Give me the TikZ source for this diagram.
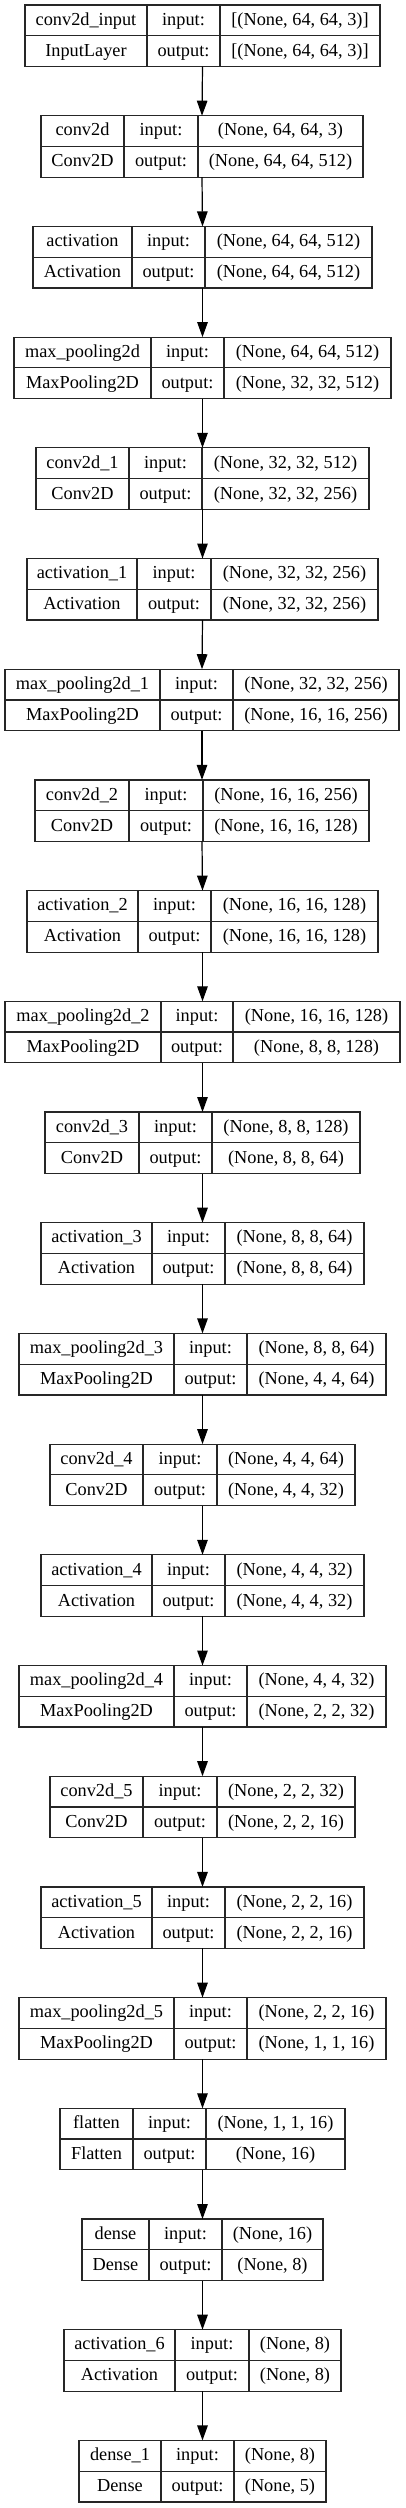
\documentclass[tikz,border=0pt]{standalone}
\usepackage{fontspec}
\setmainfont{Liberation Serif}
\usepackage{tikz}
\usetikzlibrary{arrows.meta}

% one layer record: index, left, divider 1, divider 2, right, name, class, input, output
\newcommand{\layerrow}[9]{%
    \pgfmathsetmacro{\rowtop}{5+#1*110.7}
    \node[layerbox, minimum width={#5-#2}, anchor=north west] (L#1) at (#2,\rowtop) {};
    \draw[cellline] (L#1.west) -- (L#1.east);
    \draw[cellline] (#3,\rowtop) -- ++(0,61.5);
    \draw[cellline] (#4,\rowtop) -- ++(0,61.5);
    \node[celltext] (L#1name) at ({(#2+#3)/2},{\rowtop+16}) {#6};
    \node[celltext] (L#1class) at ({(#2+#3)/2},{\rowtop+47}) {#7};
    \node[celltext] (L#1inlab) at ({(#3+#4)/2},{\rowtop+16}) {input:};
    \node[celltext] (L#1outlab) at ({(#3+#4)/2},{\rowtop+47}) {output:};
    \node[celltext] (L#1in) at ({(#4+#5)/2},{\rowtop+16}) {#8};
    \node[celltext] (L#1out) at ({(#4+#5)/2},{\rowtop+47}) {#9};
}

\begin{document}
\begin{tikzpicture}[x=1pt, y=-1pt, >={Triangle[length=15pt,width=10.5pt]},
    layerbox/.style={draw=black!85, line width=1.2pt, minimum height=61.5, inner sep=0pt, outer sep=0pt},
    cellline/.style={draw=black!85, line width=1.2pt},
    celltext/.style={inner sep=0pt, text height=12.5pt, text depth=4pt, font=\fontsize{18.3}{21}\selectfont},
    flow/.style={black, line width=1.2pt, ->}]
    \useasboundingbox (0,0) rectangle (405,2508);

    \layerrow{0}{25}{147}{220}{380}{conv2d\_input}{InputLayer}{[(None, 64, 64, 3)]}{[(None, 64, 64, 3)]}
    \layerrow{1}{41}{124}{198}{363}{conv2d}{Conv2D}{(None, 64, 64, 3)}{(None, 64, 64, 512)}
    \layerrow{2}{33}{132}{205}{372}{activation}{Activation}{(None, 64, 64, 512)}{(None, 64, 64, 512)}
    \layerrow{3}{14}{151}{224}{391}{max\_pooling2d}{MaxPooling2D}{(None, 64, 64, 512)}{(None, 32, 32, 512)}
    \layerrow{4}{36}{129}{202}{369}{conv2d\_1}{Conv2D}{(None, 32, 32, 512)}{(None, 32, 32, 256)}
    \layerrow{5}{27}{137}{211}{378}{activation\_1}{Activation}{(None, 32, 32, 256)}{(None, 32, 32, 256)}
    \layerrow{6}{5}{160}{233}{399}{max\_pooling2d\_1}{MaxPooling2D}{(None, 32, 32, 256)}{(None, 16, 16, 256)}
    \layerrow{7}{35}{129}{203}{369}{conv2d\_2}{Conv2D}{(None, 16, 16, 256)}{(None, 16, 16, 128)}
    \layerrow{8}{27}{138}{211}{378}{activation\_2}{Activation}{(None, 16, 16, 128)}{(None, 16, 16, 128)}
    \layerrow{9}{5}{161}{233}{400}{max\_pooling2d\_2}{MaxPooling2D}{(None, 16, 16, 128)}{(None, 8, 8, 128)}
    \layerrow{10}{45}{139}{212}{360}{conv2d\_3}{Conv2D}{(None, 8, 8, 128)}{(None, 8, 8, 64)}
    \layerrow{11}{41}{152}{225}{364}{activation\_3}{Activation}{(None, 8, 8, 64)}{(None, 8, 8, 64)}
    \layerrow{12}{19}{174}{247}{386}{max\_pooling2d\_3}{MaxPooling2D}{(None, 8, 8, 64)}{(None, 4, 4, 64)}
    \layerrow{13}{50}{143}{217}{355}{conv2d\_4}{Conv2D}{(None, 4, 4, 64)}{(None, 4, 4, 32)}
    \layerrow{14}{41}{152}{225}{364}{activation\_4}{Activation}{(None, 4, 4, 32)}{(None, 4, 4, 32)}
    \layerrow{15}{19}{174}{247}{386}{max\_pooling2d\_4}{MaxPooling2D}{(None, 4, 4, 32)}{(None, 2, 2, 32)}
    \layerrow{16}{50}{143}{217}{355}{conv2d\_5}{Conv2D}{(None, 2, 2, 32)}{(None, 2, 2, 16)}
    \layerrow{17}{41}{152}{225}{364}{activation\_5}{Activation}{(None, 2, 2, 16)}{(None, 2, 2, 16)}
    \layerrow{18}{19}{174}{247}{386}{max\_pooling2d\_5}{MaxPooling2D}{(None, 2, 2, 16)}{(None, 1, 1, 16)}
    \layerrow{19}{60}{133}{206}{345}{flatten}{Flatten}{(None, 1, 1, 16)}{(None, 16)}
    \layerrow{20}{82}{149}{222}{323}{dense}{Dense}{(None, 16)}{(None, 8)}
    \layerrow{21}{64}{175}{249}{341}{activation\_6}{Activation}{(None, 8)}{(None, 8)}
    \layerrow{22}{79}{161}{234}{326}{dense\_1}{Dense}{(None, 8)}{(None, 5)}

    % connectors between consecutive layers
    \foreach \i [evaluate=\i as \j using int(\i+1)] in {0,...,21}
        \draw[flow] (L\i.south) -- (L\j.north);
\end{tikzpicture}
\end{document}
